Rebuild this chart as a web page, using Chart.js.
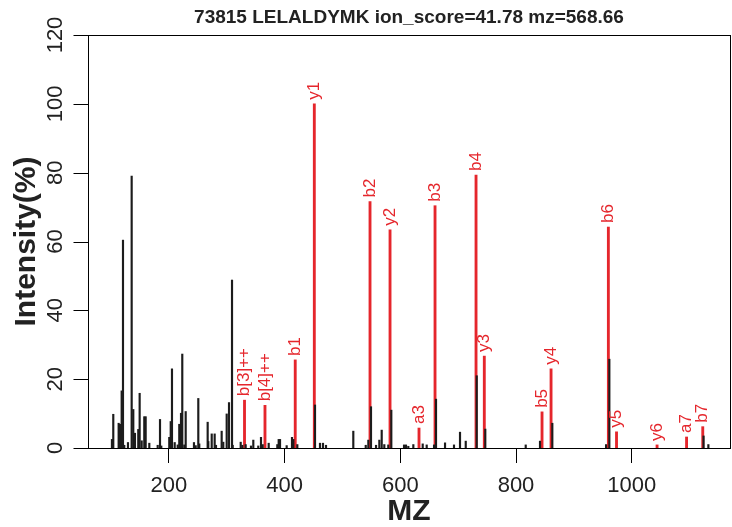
<!DOCTYPE html>
<html>
<head>
<meta charset="utf-8">
<script src="https://cdn.jsdelivr.net/npm/chart.js@4.4.1/dist/chart.umd.min.js"></script>
<style>
html,body{margin:0;padding:0;background:#fff;}
canvas{display:block;}
</style>
</head>
<body>
<canvas id="c" width="732" height="527"></canvas>
<script>
const titleText = "73815 LELALDYMK ion_score=41.78 mz=568.66";
const xTitle = "MZ";
const yTitle = "Intensity(%)";
const xTicks = [200, 400, 600, 800, 1000];
const yTicks = [0, 20, 40, 60, 80, 100, 120];

// unmatched peaks (black)
const blackMz = [101.4,103.7,113.0,115.3,118.2,120.5,122.7,129.1,135.5,138.3,141.2,146.9,149.3,152.8,157.3,159.7,166.0,180.5,184.5,186.7,
  200.5,203.0,205.2,209.9,215.1,217.8,220.8,223.0,226.5,228.9,243.2,246.2,250.7,252.4,266.9,268.0,273.9,279.0,281.3,291.1,293.9,299.8,
  303.8,309.0,310.2,324.0,326.8,332.6,341.8,345.8,354.4,359.1,362.0,372.4,387.3,389.7,392.0,403.5,412.7,415.0,421.9,452.5,461.1,466.3,
  471.5,518.7,540.2,544.7,549.3,558.0,563.7,567.8,572.3,579.2,584.4,606.4,609.8,613.8,622.5,638.7,645.6,658.3,661.7,677.3,692.8,703.2,
  713.1,732.1,746.9,816.8,841.5,862.8,955.7,961.4,1124.3,1132.6];
const blackInt = [2.5,9.8,7.2,6.9,16.6,60.4,0.8,1.6,79.0,11.2,4.3,5.4,15.9,2.1,9.1,9.1,1.4,0.8,8.3,0.6,
  3.1,7.7,23.0,1.6,0.9,6.9,10.1,27.3,0.9,10.6,1.6,0.7,14.4,1.2,7.5,1.9,4.1,4.1,0.8,4.9,1.7,9.9,
  13.2,48.8,0.8,1.7,0.8,1.0,0.6,2.3,0.6,3.1,1.0,1.4,1.0,2.5,2.5,0.7,3.1,2.5,1.0,12.5,1.4,1.4,
  0.8,4.9,0.8,2.3,12.0,0.8,2.3,5.2,1.0,0.9,11.0,0.9,0.9,0.5,1.0,1.2,0.9,0.9,14.2,1.5,0.9,4.6,
  2.0,21.0,5.5,0.9,2.0,7.2,1.0,25.8,3.5,1.0];

// matched fragment ions (red)
const ionLabels = ["b[3]++","b[4]++","b1","y1","b2","y2","a3","b3","b4","y3","b5","y4","b6","y5","y6","a7","b7"];
const ionMz = [330.6,366.0,418.3,451.3,547.6,582.2,632.3,660.0,730.9,745.2,845.0,860.6,959.7,973.8,1043.9,1094.9,1122.9];
const ionInt = [13.9,12.4,25.6,100,71.6,63.4,5.8,70.4,79.3,26.7,10.5,23.0,64.2,4.7,0.9,3.2,6.2];

const RED = '#e5262c';
const BLACK = '#1c1c1c';
const FONT = '"Liberation Sans", Arial, Helvetica, sans-serif';

const decor = {
  id: 'decor',
  afterDatasetsDraw(chart) {
    const ctx = chart.ctx;
    const meta = chart.getDatasetMeta(1);
    ctx.save();
    ctx.fillStyle = RED;
    ctx.font = '17px ' + FONT;
    ctx.textAlign = 'left';
    ctx.textBaseline = 'middle';
    meta.data.forEach((el, i) => {
      ctx.save();
      ctx.translate(el.x, el.y - 4);
      ctx.rotate(-Math.PI / 2);
      ctx.fillText(ionLabels[i], 0, 0);
      ctx.restore();
    });
    ctx.restore();
  },
  afterDraw(chart) {
    const ctx = chart.ctx;
    const a = chart.chartArea;
    const ys = chart.scales.y;
    ctx.save();
    // box
    ctx.strokeStyle = '#000';
    ctx.lineWidth = 1;
    const L = Math.round(a.left) + 0.5;
    ctx.strokeRect(L, Math.round(a.top) + 0.5, Math.round(a.right - a.left), Math.round(a.bottom - a.top));
    // y tick marks and rotated labels
    ctx.beginPath();
    yTicks.forEach(v => {
      const py = Math.round(ys.getPixelForValue(v)) + 0.5;
      ctx.moveTo(L - 15, py);
      ctx.lineTo(L, py);
    });
    ctx.stroke();
    ctx.fillStyle = '#222';
    ctx.font = '22px ' + FONT;
    ctx.textAlign = 'center';
    ctx.textBaseline = 'middle';
    yTicks.forEach(v => {
      ctx.save();
      ctx.translate(56, ys.getPixelForValue(v));
      ctx.rotate(-Math.PI / 2);
      ctx.fillText(String(v), 0, 0);
      ctx.restore();
    });
    // title
    const cx = (a.left + a.right) / 2;
    ctx.fillStyle = '#222';
    ctx.font = 'bold 19px ' + FONT;
    ctx.fillText(titleText, cx, 18);
    // x title
    ctx.font = 'bold 30px ' + FONT;
    ctx.fillText(xTitle, cx, 512);
    // y title
    ctx.save();
    ctx.translate(27, (a.top + a.bottom) / 2);
    ctx.rotate(-Math.PI / 2);
    ctx.fillText(yTitle, 0, 0);
    ctx.restore();
    ctx.restore();
  }
};

new Chart(document.getElementById('c'), {
  type: 'bar',
  data: {
    datasets: [
      {
        label: 'peaks',
        data: blackMz.map((m, i) => ({ x: m, y: blackInt[i] })),
        backgroundColor: BLACK,
        barThickness: 1.5,
        order: 0
      },
      {
        label: 'matched',
        data: ionMz.map((m, i) => ({ x: m, y: ionInt[i] })),
        backgroundColor: RED,
        barThickness: 2.2,
        order: 1
      }
    ]
  },
  options: {
    responsive: false,
    animation: false,
    devicePixelRatio: 1,
    datasets: { bar: { grouped: false } },
    layout: { padding: { top: 35, right: 2, left: 0, bottom: 0 } },
    plugins: { legend: { display: false }, tooltip: { enabled: false }, title: { display: false } },
    scales: {
      x: {
        type: 'linear',
        min: 60,
        max: 1170,
        offset: false,
        afterBuildTicks: s => { s.ticks = xTicks.map(v => ({ value: v })); },
        afterFit: s => { s.height = 79; },
        grid: { offset: false, drawOnChartArea: false, drawTicks: true, tickLength: 15, color: '#000', lineWidth: 1 },
        border: { display: true, color: '#000', width: 1 },
        ticks: { font: { family: FONT, size: 22 }, color: '#222', padding: 10, maxRotation: 0, minRotation: 0, autoSkip: false,
                 callback: v => String(v) }
      },
      y: {
        type: 'linear',
        min: 0,
        max: 120,
        afterBuildTicks: s => { s.ticks = yTicks.map(v => ({ value: v })); },
        afterFit: s => { s.width = 88; },
        grid: { display: false },
        border: { display: true, color: '#000', width: 1 },
        ticks: { display: false }
      }
    }
  },
  plugins: [decor]
});
</script>
</body>
</html>
